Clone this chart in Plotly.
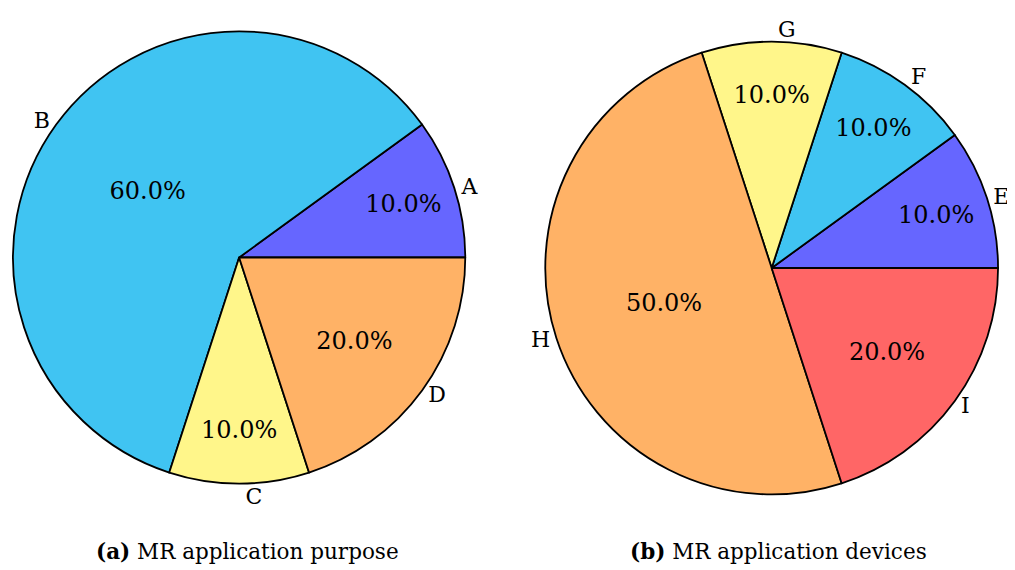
import plotly.graph_objects as go

labels_a = ["A", "B", "C", "D"]
values_a = [10, 60, 10, 20]
colors_a = ["#6666ff", "#40c4f2", "#fff68a", "#ffb266"]

labels_b = ["E", "F", "G", "H", "I"]
values_b = [10, 10, 10, 50, 20]
colors_b = ["#6666ff", "#40c4f2", "#fff68a", "#ffb266", "#ff6666"]

caption_a = "<b>(a)</b> MR application purpose"
caption_b = "<b>(b)</b> MR application devices"

FONT = "DejaVu Serif"

fig = go.Figure()

def add_pie(labels, values, colors, dom_x, dom_y):
    # first slice starts at 3 o'clock and slices run counterclockwise
    rot = 90 - 360.0 * values[0] / sum(values)
    fig.add_trace(go.Pie(
        labels=labels, values=values, sort=False, direction="counterclockwise",
        rotation=rot, marker=dict(colors=colors, line=dict(color="black", width=1.8)),
        textinfo="label", textposition="outside",
        textfont=dict(family=FONT, size=22, color="black"),
        domain=dict(x=dom_x, y=dom_y), showlegend=False,
    ))
    fig.add_trace(go.Pie(
        labels=labels, values=values, sort=False, direction="counterclockwise",
        rotation=rot, marker=dict(colors=["rgba(0,0,0,0)"] * len(labels), line=dict(width=0)),
        textinfo="percent", textposition="inside", insidetextorientation="horizontal",
        texttemplate="%{percent:.1%}",
        textfont=dict(family=FONT, size=24, color="black"),
        domain=dict(x=dom_x, y=dom_y), showlegend=False,
    ))

add_pie(labels_a, values_a, colors_a, [0.0, 0.4478], [0.1632, 0.9614])
add_pie(labels_b, values_b, colors_b, [0.5270, 0.9753], [0.1447, 0.9430])

fig.add_annotation(text=caption_a, x=0.232, y=0.047, xref="paper", yref="paper",
                   xanchor="center", yanchor="middle", showarrow=False,
                   font=dict(family=FONT, size=21.5, color="black"))
fig.add_annotation(text=caption_b, x=0.758, y=0.047, xref="paper", yref="paper",
                   xanchor="center", yanchor="middle", showarrow=False,
                   font=dict(family=FONT, size=21.5, color="black"))

fig.update_layout(width=1015, height=570, margin=dict(l=0, r=0, t=0, b=0),
                  paper_bgcolor="white", plot_bgcolor="white")
fig.write_html("out.html")
